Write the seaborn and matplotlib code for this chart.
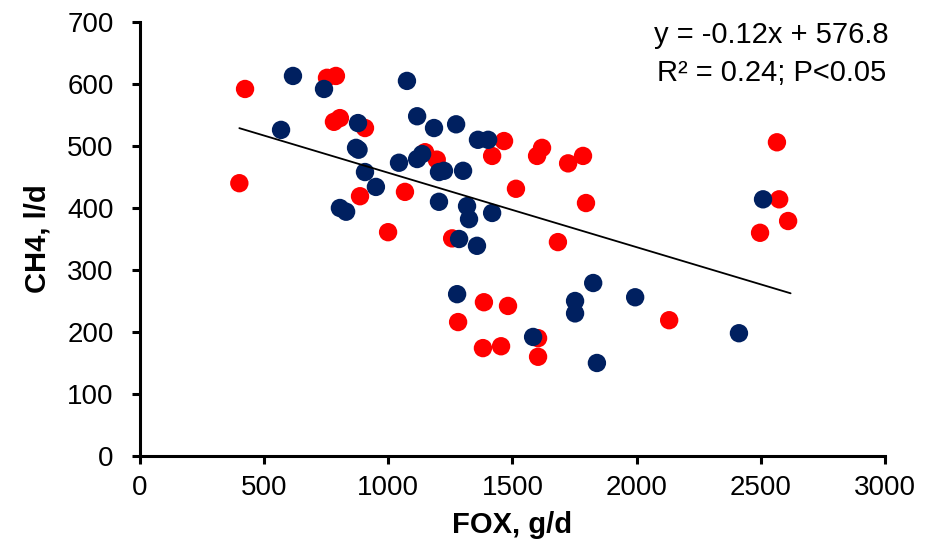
import matplotlib
matplotlib.use("Agg")
import matplotlib.pyplot as plt
import seaborn as sns
import pandas as pd
import numpy as np

# Group 1 (red)
red_x = [400, 423, 753, 789, 781, 805, 906, 886, 999, 1148, 1195, 1466, 1418,
         1599, 1619, 1724, 1784, 1067, 1514, 1796, 1257, 1683, 1385, 1482,
         1281, 1381, 1454, 1603, 1603, 2565, 2574, 2610, 2497, 2131]
red_y = [440, 592, 610, 613, 539, 545, 529, 419, 361, 490, 478, 508, 484,
         484, 497, 472, 484, 426, 431, 408, 351, 345, 248, 242,
         216, 174, 177, 190, 160, 506, 414, 379, 360, 219]

# Group 2 (dark blue)
blue_x = [616, 741, 568, 878, 870, 880, 906, 950, 805, 830, 1075, 1116, 1184,
          1273, 1361, 1402, 1043, 1116, 1136, 1204, 1224, 1301, 1204, 1317,
          1325, 1418, 1285, 1357, 1277, 1583, 1752, 1752, 1825, 1840, 1994,
          2509, 2412]
blue_y = [613, 592, 526, 537, 497, 494, 458, 434, 400, 394, 605, 548, 529,
          535, 510, 510, 473, 479, 487, 458, 460, 460, 410, 403,
          382, 392, 350, 339, 261, 192, 250, 230, 279, 150, 256,
          414, 198]

# Trend line (from the equation shown)
trend_slope = -0.12
trend_intercept = 576.8
trend_x = [400, 2620]

x_ticks = [0, 500, 1000, 1500, 2000, 2500, 3000]
y_ticks = [0, 100, 200, 300, 400, 500, 600, 700]

df = pd.DataFrame({
    "FOX": red_x + blue_x,
    "CH4": red_y + blue_y,
    "group": ["A"] * len(red_x) + ["B"] * len(blue_x),
})

sns.set_theme(style="white")
plt.rcParams["font.family"] = ["Liberation Sans", "DejaVu Sans"]
plt.rcParams["text.color"] = "black"
plt.rcParams["axes.labelcolor"] = "black"
plt.rcParams["xtick.color"] = "black"
plt.rcParams["ytick.color"] = "black"

fig = plt.figure(figsize=(9.34, 5.56), dpi=100)
ax = fig.add_axes([0.1499, 0.1799, 0.7976, 0.7805])

sns.scatterplot(data=df, x="FOX", y="CH4", hue="group",
                palette={"A": "#FF0000", "B": "#002060"},
                s=175, linewidth=0, alpha=1, legend=False, ax=ax)

tx = np.array(trend_x, dtype=float)
ty = trend_slope * tx + trend_intercept
sns.lineplot(x=tx, y=ty, color="black", linewidth=1.3, ax=ax)

ax.set_xlim(0, 3000)
ax.set_ylim(0, 700)
ax.set_xticks(x_ticks)
ax.set_yticks(y_ticks)
ax.set_xticklabels([str(v) for v in x_ticks], fontsize=20)
ax.set_yticklabels([str(v) for v in y_ticks], fontsize=20)
ax.tick_params(axis="both", direction="out", length=6, width=2.2,
               color="black", labelcolor="black", bottom=True, left=True)
ax.tick_params(axis="x", pad=8)
ax.tick_params(axis="y", pad=13)

for side in ["top", "right"]:
    ax.spines[side].set_visible(False)
for side in ["left", "bottom"]:
    ax.spines[side].set_color("black")
    ax.spines[side].set_linewidth(2.2)

ax.set_xlabel("FOX, g/d", fontsize=21, fontweight="bold", labelpad=7)
ax.set_ylabel("CH4, l/d", fontsize=21, fontweight="bold", labelpad=11)

ax.text(0.848, 0.97, "y = -0.12x + 576.8", transform=ax.transAxes,
        fontsize=21, ha="center", va="center")
ax.text(0.848, 0.882, "R² = 0.24; P<0.05", transform=ax.transAxes,
        fontsize=21, ha="center", va="center")

fig.savefig("out.png", dpi=100)
